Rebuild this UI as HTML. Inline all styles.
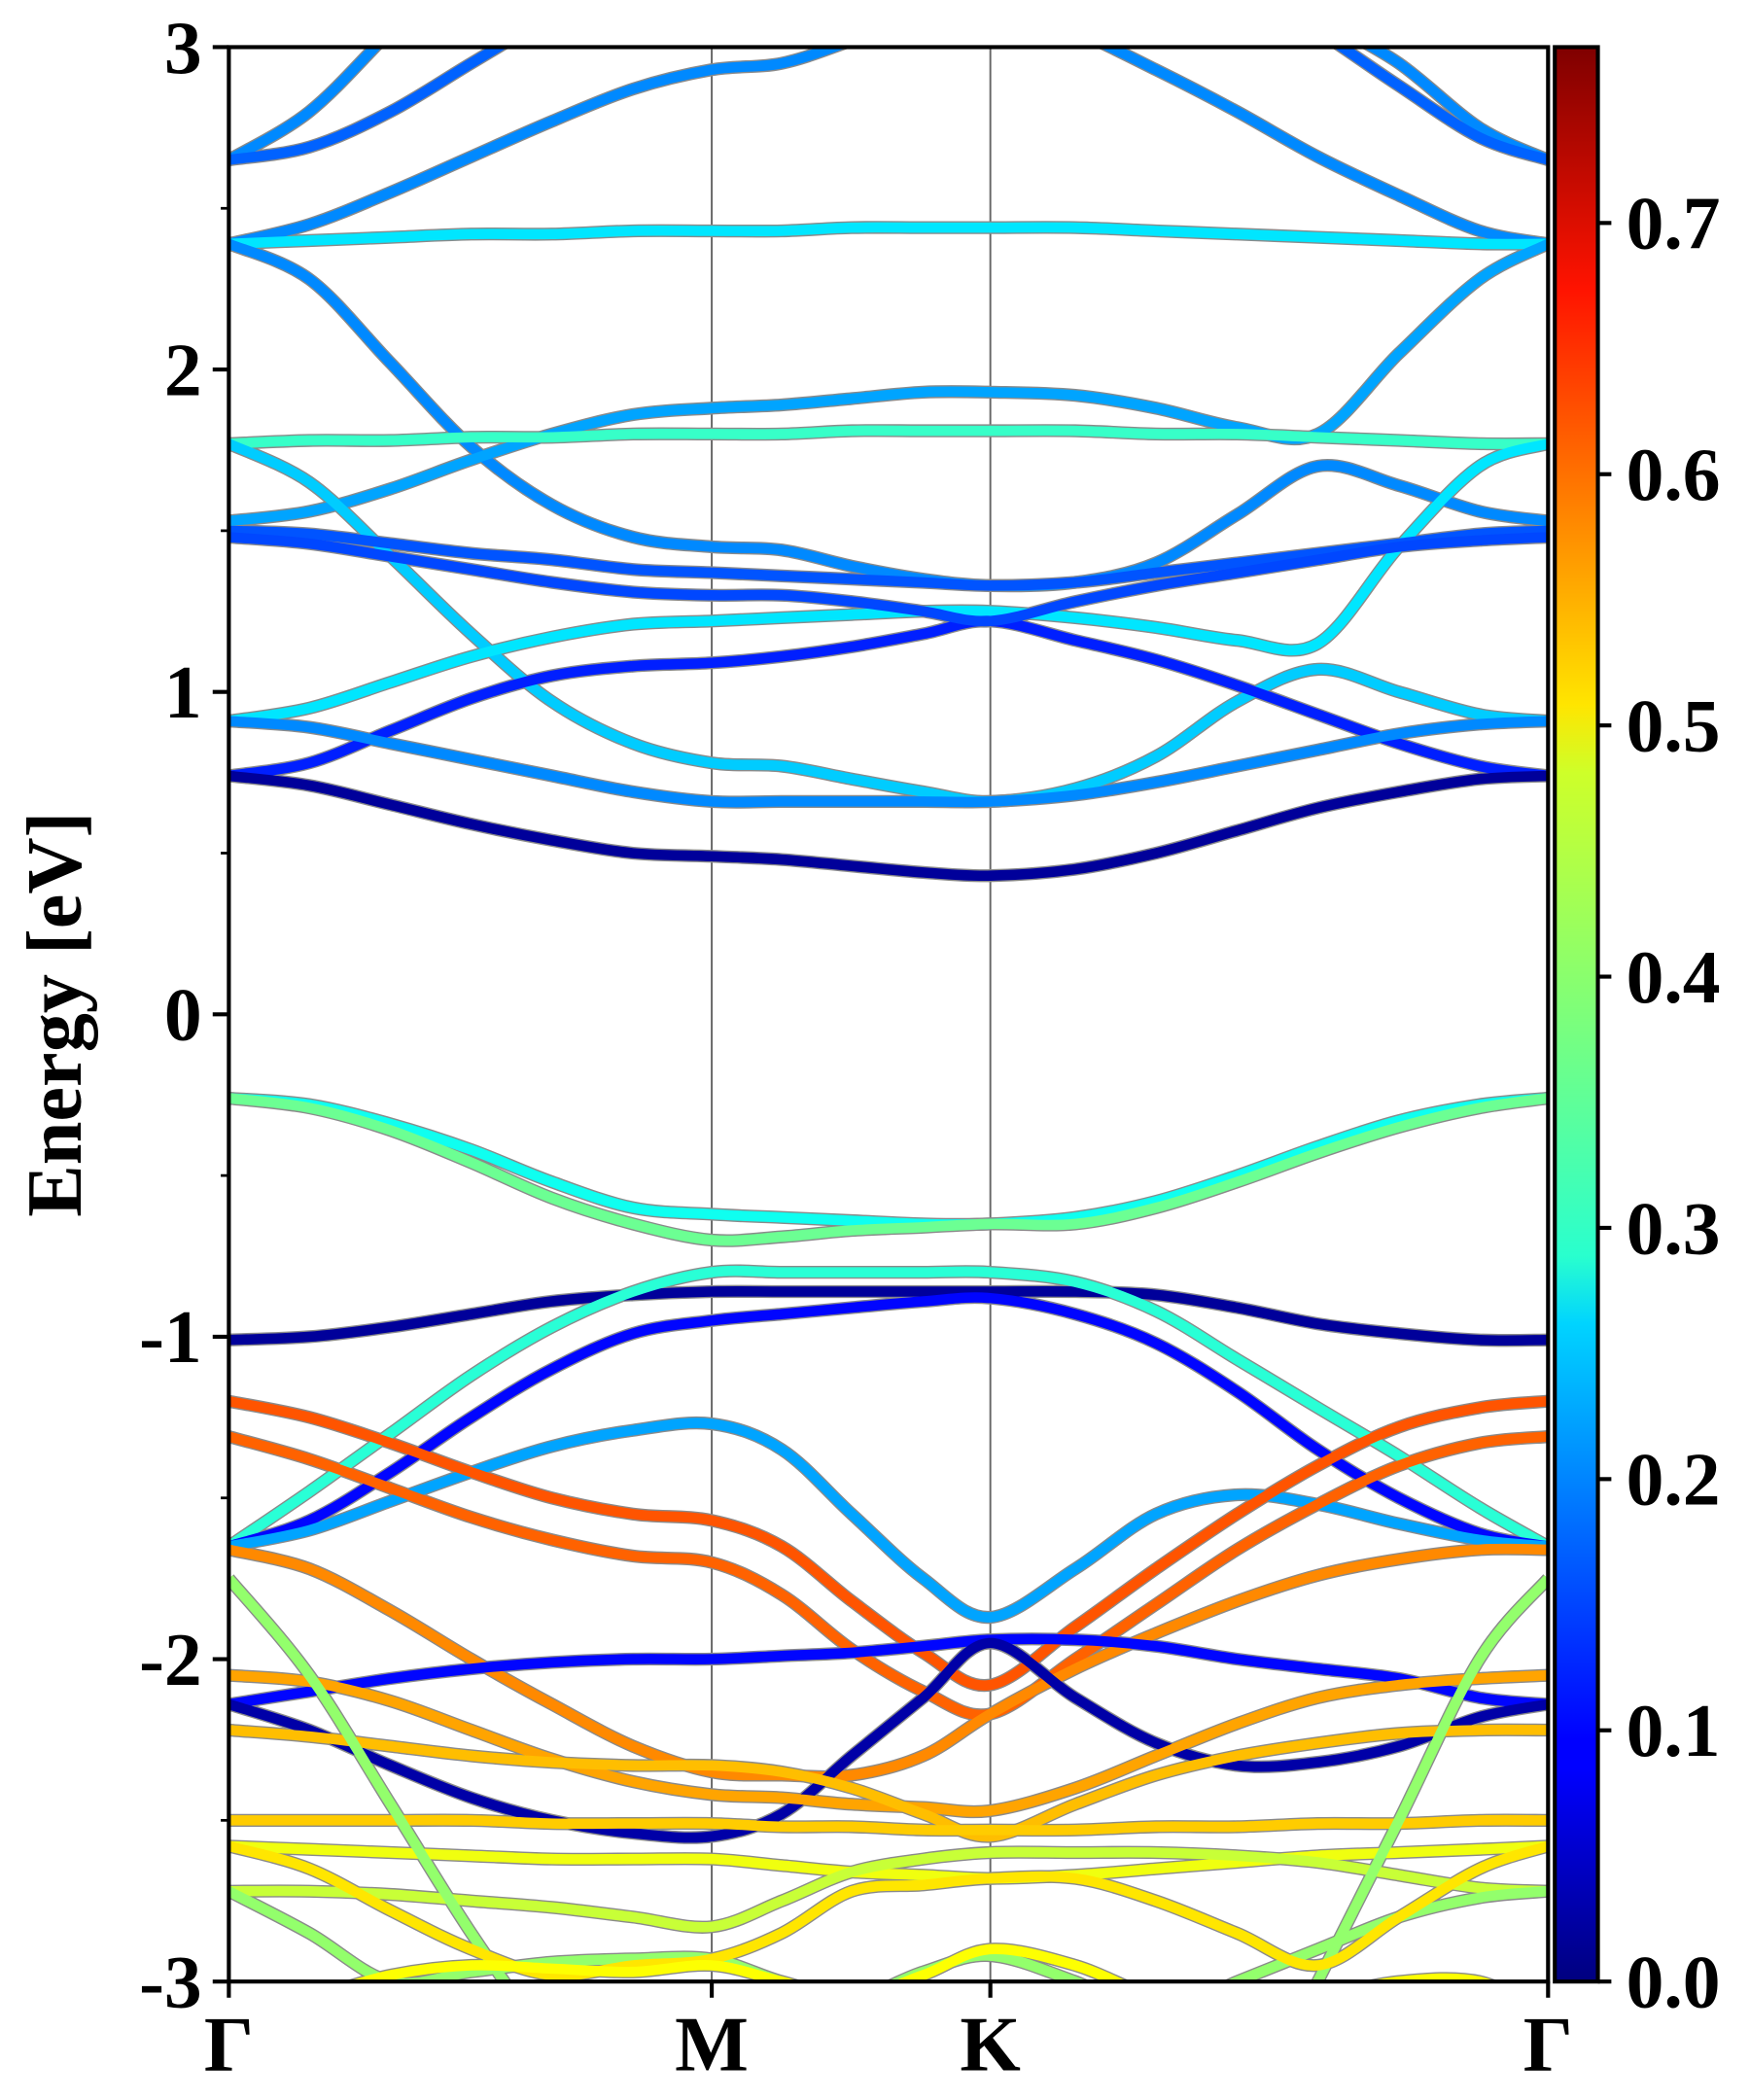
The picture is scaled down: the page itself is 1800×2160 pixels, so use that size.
<!DOCTYPE html>
<html><head><meta charset="utf-8"><style>
html,body{margin:0;padding:0;background:#fff;}
svg{display:block;}
text{font-family:"Liberation Serif",serif;font-weight:bold;fill:#000;}
</style></head><body>
<svg id="chart" width="1800" height="2160" viewBox="0 0 1300 1560" xmlns="http://www.w3.org/2000/svg">
<defs>
<clipPath id="plotclip"><rect x="170" y="35" width="980" height="1437"/></clipPath>
<linearGradient id="jet" x1="0" y1="1" x2="0" y2="0">
<stop offset="0" stop-color="#00007f"/><stop offset="0.11" stop-color="#0000ff"/>
<stop offset="0.125" stop-color="#0000ff"/><stop offset="0.34" stop-color="#00d4ff"/>
<stop offset="0.375" stop-color="#29ffce"/><stop offset="0.5" stop-color="#7dff7a"/>
<stop offset="0.625" stop-color="#ceff29"/><stop offset="0.66" stop-color="#ffe500"/>
<stop offset="0.875" stop-color="#ff1300"/><stop offset="1" stop-color="#7f0000"/>
</linearGradient>
</defs>
<g id="bands" clip-path="url(#plotclip)"></g>
<g id="axes"></g>
</svg>
<script>
// k-path sample positions (path distance units; Γ=0, M=1, K=1.577, Γ=2.732)
const kSamples = [0,0.167,0.335,0.502,0.669,0.837,1.0,1.145,1.29,1.438,1.577,1.753,1.92,2.088,2.255,2.423,2.59,2.732];
const kLabels = ["Γ","M","K","Γ"];
const kLabelPos = [0,1.0,1.577,2.732];
const yTicks = [-3,-2,-1,0,1,2,3];
const cbTicks = [0.0,0.1,0.2,0.3,0.4,0.5,0.6,0.7];
const weightMax = 0.77;
const bandWeights = [0.20,0.17,0.20,0.27,0.2,0.22,0.33,0.25,0.27,0.12,0.2,0.02,0.16,0.15,
 0.30,0.37,0.02,0.32,0.10,0.22,0.61,0.60,0.57,0.10,0.03,0.55,0.53,0.52,0.47,0.44,0.40,0.40,0.50,0.48];
const bandEnergies = [
 [2.65,2.80,3.05,3.3,3.5,3.6,3.6,3.6,3.6,3.6,3.6,3.6,3.5,3.3,3.1,2.95,2.75,2.65],
 [2.65,2.69,2.80,2.95,3.1,3.25,3.3,3.3,3.3,3.3,3.3,3.3,3.3,3.2,3.05,2.88,2.72,2.65],
 [2.39,2.45,2.55,2.66,2.77,2.87,2.93,2.95,3.02,3.1,3.15,3.05,2.93,2.80,2.66,2.54,2.43,2.39],
 [2.39,2.40,2.41,2.42,2.42,2.43,2.43,2.43,2.44,2.44,2.44,2.44,2.43,2.42,2.41,2.40,2.39,2.39],
 [2.39,2.28,2.02,1.76,1.58,1.48,1.45,1.44,1.39,1.35,1.33,1.34,1.40,1.55,1.70,1.64,1.56,1.53],
 [1.53,1.56,1.63,1.72,1.80,1.86,1.88,1.89,1.91,1.93,1.93,1.92,1.88,1.82,1.80,2.05,2.28,2.39],
 [1.77,1.78,1.78,1.79,1.79,1.80,1.80,1.80,1.81,1.81,1.81,1.81,1.80,1.80,1.79,1.78,1.77,1.77],
 [1.77,1.65,1.42,1.18,0.97,0.84,0.78,0.77,0.73,0.69,0.66,0.70,0.80,0.97,1.07,1.00,0.93,0.91],
 [0.91,0.95,1.03,1.11,1.17,1.21,1.22,1.23,1.24,1.25,1.25,1.23,1.20,1.16,1.15,1.45,1.70,1.77],
 [0.74,0.78,0.88,0.98,1.05,1.08,1.09,1.11,1.14,1.18,1.22,1.16,1.10,1.02,0.93,0.84,0.77,0.74],
 [0.91,0.89,0.84,0.79,0.74,0.69,0.66,0.66,0.66,0.66,0.66,0.68,0.72,0.77,0.82,0.87,0.90,0.91],
 [0.74,0.71,0.65,0.59,0.54,0.50,0.49,0.48,0.46,0.44,0.43,0.45,0.50,0.57,0.64,0.69,0.73,0.74],
 [1.50,1.49,1.46,1.43,1.41,1.38,1.37,1.36,1.35,1.34,1.33,1.34,1.37,1.40,1.43,1.46,1.49,1.50],
 [1.48,1.46,1.42,1.38,1.34,1.31,1.30,1.30,1.28,1.25,1.22,1.28,1.33,1.37,1.41,1.45,1.47,1.48],
 [-0.26,-0.28,-0.34,-0.42,-0.52,-0.60,-0.62,-0.63,-0.64,-0.65,-0.65,-0.63,-0.58,-0.50,-0.41,-0.33,-0.28,-0.26],
 [-0.26,-0.29,-0.36,-0.46,-0.57,-0.65,-0.70,-0.69,-0.67,-0.66,-0.65,-0.65,-0.60,-0.52,-0.43,-0.35,-0.29,-0.26],
 [-1.01,-1.00,-0.97,-0.93,-0.89,-0.87,-0.86,-0.86,-0.86,-0.86,-0.86,-0.86,-0.87,-0.91,-0.96,-0.99,-1.01,-1.01],
 [-1.65,-1.48,-1.30,-1.12,-0.97,-0.86,-0.80,-0.80,-0.80,-0.80,-0.80,-0.83,-0.92,-1.07,-1.22,-1.37,-1.53,-1.65],
 [-1.65,-1.57,-1.42,-1.25,-1.10,-0.99,-0.95,-0.93,-0.91,-0.89,-0.88,-0.93,-1.02,-1.17,-1.35,-1.50,-1.61,-1.65],
 [-1.65,-1.60,-1.51,-1.42,-1.34,-1.29,-1.27,-1.35,-1.55,-1.75,-1.87,-1.72,-1.55,-1.49,-1.52,-1.58,-1.63,-1.65],
 [-1.20,-1.25,-1.33,-1.42,-1.50,-1.55,-1.57,-1.65,-1.82,-1.98,-2.08,-1.90,-1.72,-1.55,-1.40,-1.28,-1.22,-1.20],
 [-1.31,-1.38,-1.47,-1.56,-1.63,-1.68,-1.70,-1.80,-1.97,-2.10,-2.17,-2.00,-1.83,-1.66,-1.52,-1.40,-1.33,-1.31],
 [-1.66,-1.72,-1.85,-2.00,-2.14,-2.27,-2.35,-2.36,-2.36,-2.30,-2.17,-2.03,-1.92,-1.82,-1.74,-1.69,-1.66,-1.66],
 [-2.14,-2.10,-2.06,-2.03,-2.01,-2.00,-2.00,-1.99,-1.98,-1.96,-1.94,-1.94,-1.96,-2.00,-2.03,-2.06,-2.12,-2.14],
 [-2.14,-2.22,-2.33,-2.43,-2.50,-2.54,-2.55,-2.48,-2.30,-2.12,-1.95,-2.12,-2.26,-2.33,-2.32,-2.27,-2.18,-2.14],
 [-2.05,-2.07,-2.13,-2.22,-2.31,-2.38,-2.42,-2.43,-2.45,-2.46,-2.47,-2.40,-2.30,-2.20,-2.12,-2.08,-2.06,-2.05],
 [-2.22,-2.24,-2.27,-2.30,-2.32,-2.33,-2.33,-2.35,-2.40,-2.48,-2.55,-2.45,-2.36,-2.30,-2.26,-2.23,-2.22,-2.22],
 [-2.50,-2.50,-2.50,-2.50,-2.51,-2.51,-2.51,-2.52,-2.52,-2.53,-2.53,-2.53,-2.52,-2.52,-2.51,-2.51,-2.50,-2.50],
 [-2.58,-2.59,-2.60,-2.61,-2.62,-2.62,-2.62,-2.64,-2.66,-2.67,-2.68,-2.67,-2.65,-2.63,-2.61,-2.60,-2.59,-2.58],
 [-2.72,-2.72,-2.73,-2.75,-2.77,-2.80,-2.83,-2.75,-2.66,-2.62,-2.60,-2.60,-2.60,-2.61,-2.63,-2.67,-2.71,-2.72],
 [-1.75,-2.05,-2.45,-2.85,-3.2,-3.5,-3.6,-3.6,-3.6,-3.6,-3.6,-3.6,-3.6,-3.5,-3.0,-2.50,-2.00,-1.75],
 [-2.72,-2.85,-3.0,-2.97,-2.94,-2.93,-2.93,-3.0,-3.05,-2.97,-2.92,-3.0,-3.1,-3.0,-2.90,-2.80,-2.74,-2.72],
 [-2.58,-2.65,-2.78,-2.90,-2.98,-2.95,-2.93,-2.85,-2.72,-2.70,-2.68,-2.68,-2.75,-2.85,-2.95,-2.80,-2.65,-2.58],
 [-3.1,-3.05,-2.98,-2.95,-2.96,-2.97,-2.95,-3.0,-3.05,-2.98,-2.90,-2.95,-3.05,-3.1,-3.05,-3.0,-3.0,-3.1]
];

const NS = "http://www.w3.org/2000/svg";
const X0 = 170, X1 = 1150, Y0 = 35, Y1 = 1472;
const KMAX = 2.732, EMIN = -3, EMAX = 3;
function xScale(k){ return X0 + (k / KMAX) * (X1 - X0); }
function yScale(e){ return Y1 - (e - EMIN) / (EMAX - EMIN) * (Y1 - Y0); }
function cbScale(w){ return Y1 - (w / weightMax) * (Y1 - Y0); }
function jet(t){
  const c = v => Math.round(255 * Math.max(0, Math.min(1, v)));
  return `rgb(${c(1.5-Math.abs(4*t-3))},${c(1.5-Math.abs(4*t-2))},${c(1.5-Math.abs(4*t-1))})`;
}
function smoothPath(ks, es){
  const pts = ks.map((k,i)=>[xScale(k), yScale(es[i])]);
  let d = `M${pts[0][0].toFixed(1)},${pts[0][1].toFixed(1)}`;
  for (let i=0;i<pts.length-1;i++){
    const p0 = pts[Math.max(0,i-1)], p1 = pts[i], p2 = pts[i+1], p3 = pts[Math.min(pts.length-1,i+2)];
    const c1 = [p1[0]+(p2[0]-p0[0])/6, p1[1]+(p2[1]-p0[1])/6];
    const c2 = [p2[0]-(p3[0]-p1[0])/6, p2[1]-(p3[1]-p1[1])/6];
    d += ` C${c1[0].toFixed(1)},${c1[1].toFixed(1)} ${c2[0].toFixed(1)},${c2[1].toFixed(1)} ${p2[0].toFixed(1)},${p2[1].toFixed(1)}`;
  }
  return d;
}
function mk(tag, attrs, parent){
  const el = document.createElementNS(NS, tag);
  for (const a in attrs) el.setAttribute(a, attrs[a]);
  parent.appendChild(el);
  return el;
}
const gB = document.getElementById('bands');
const gA = document.getElementById('axes');

kLabelPos.slice(1,3).forEach((k)=>{
  const l = mk('line',{x1:xScale(k),x2:xScale(k),y1:Y0,y2:Y1,stroke:'#666','stroke-width':1.4}, gB);
  
  
});
bandEnergies.forEach((es, i)=>{
  const d = smoothPath(kSamples, es);
  const o = mk('path',{d:d,fill:'none',stroke:'#8a8a8a','stroke-width':9.6}, gB);
  
  
});
bandEnergies.forEach((es, i)=>{
  const d = smoothPath(kSamples, es);
  const p = mk('path',{d:d,fill:'none',stroke:jet(bandWeights[i]/weightMax),'stroke-width':7.6}, gB);
  
  
});

const fr = mk('rect',{x:X0,y:Y0,width:X1-X0,height:Y1-Y0,fill:'none',stroke:'#000','stroke-width':3}, gA);


yTicks.forEach(v=>{
  const y = yScale(v);
  const t = mk('line',{x1:X0-12,x2:X0,y1:y,y2:y,stroke:'#000','stroke-width':3}, gA);
  
  
  const tx = mk('text',{x:X0-20,y:y+19,'text-anchor':'end','font-size':56}, gA);
  tx.textContent = String(v);
  
  
});
for (let v=-2.5; v<3; v+=1){
  const y = yScale(v);
  const t = mk('line',{x1:X0-6,x2:X0,y1:y,y2:y,stroke:'#000','stroke-width':2}, gA);
  
  
}
kLabelPos.forEach((k,i)=>{
  const x = xScale(k);
  const t = mk('line',{x1:x,x2:x,y1:Y1,y2:Y1+12,stroke:'#000','stroke-width':3}, gA);
  
  
  const tx = mk('text',{x:x,y:Y1+66,'text-anchor':'middle','font-size':58}, gA);
  tx.textContent = kLabels[i];
  
  
});
const yt = mk('text',{x:0,y:0,'text-anchor':'middle','font-size':58,transform:`translate(60,${(Y0+Y1)/2}) rotate(-90)`}, gA);
yt.textContent = 'Energy [eV]';


const cb = mk('rect',{x:1155,y:Y0,width:32,height:Y1-Y0,fill:'url(#jet)',stroke:'#000','stroke-width':3}, gA);


cbTicks.forEach(v=>{
  const y = cbScale(v);
  const t = mk('line',{x1:1187,x2:1197,y1:y,y2:y,stroke:'#000','stroke-width':3}, gA);
  
  
  const tx = mk('text',{x:1208,y:y+19,'font-size':56}, gA);
  tx.textContent = v.toFixed(1);
  
  
});
</script>
</body></html>
